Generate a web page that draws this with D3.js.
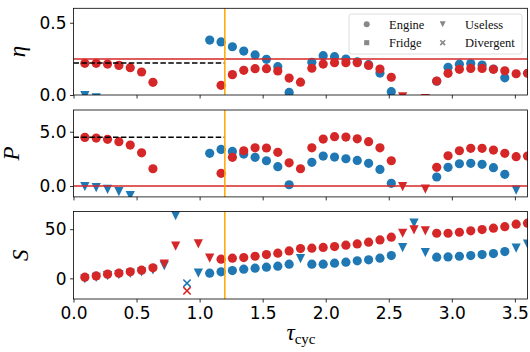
<!DOCTYPE html>
<html>
<head>
<meta charset="utf-8">
<script src="https://cdn.jsdelivr.net/npm/d3@7"></script>
<style>
  body { margin: 0; background: #fff; }
  svg { display: block; }
</style>
</head>
<body>
<div id="chart"></div>
<script>
// cycle times (x)
const tau = [0.09, 0.18, 0.27, 0.36, 0.45, 0.54, 0.63, 0.72, 0.81, 0.90,
             0.99, 1.08, 1.17, 1.26, 1.35, 1.44, 1.53, 1.62, 1.71, 1.80,
             1.89, 1.98, 2.07, 2.16, 2.25, 2.34, 2.43, 2.52, 2.61, 2.70,
             2.79, 2.88, 2.97, 3.06, 3.15, 3.24, 3.33, 3.42, 3.51, 3.60];

// regime per point: E engine, F fridge, U useless, D divergent
const typeBlue = "UUUUUUUUUDUEEEEEEEEUEEEEEEEEUUUEEEEEEEUU".split("");
const typeRed  = "EEEEEEEUUDUUEEEEEEEEEEEEEEEEUUUEEEEEEEEE".split("");

// efficiency eta
const etaBlue = [-0.005, -0.02, null, null, null, null, null, null, null, null,
                 null, 0.380, 0.367, 0.334, 0.304, 0.277, 0.247, 0.196, 0.018, null,
                 0.226, 0.272, 0.265, 0.249, 0.230, 0.210, 0.152, 0.023, null, null,
                 null, 0.095, 0.192, 0.213, 0.218, 0.207, 0.180, 0.119, null, null];
const etaRed  = [0.219, 0.219, 0.214, 0.205, 0.189, 0.159, 0.088, null, null, null,
                 null, null, 0.067, 0.141, 0.171, 0.182, 0.182, 0.166, 0.117, 0.089,
                 0.185, 0.214, 0.224, 0.224, 0.224, 0.205, 0.180, 0.123, -0.012, null,
                 -0.025, 0.097, 0.150, 0.178, 0.184, 0.184, 0.178, 0.167, 0.147, 0.150];

// power P
const powBlue = [-0.06, -0.15, -0.31, -0.52, -0.89, null, null, null, null, null,
                 null, 3.01, 3.37, 3.19, 2.94, 2.64, 2.33, 1.78, 0.12, null,
                 2.18, 2.76, 2.67, 2.51, 2.36, 2.09, 1.53, 0.25, null, null,
                 null, 0.83, 1.72, 2.05, 2.09, 2.00, 1.69, 1.08, -0.37, null];
const powRed  = [4.48, 4.42, 4.30, 4.08, 3.77, 3.06, 1.59, null, null, null,
                 null, null, 1.17, 2.64, 3.25, 3.52, 3.50, 3.10, 2.14, 1.59,
                 3.52, 4.32, 4.54, 4.51, 4.35, 4.08, 3.52, 2.33, -0.06, null,
                 -0.28, 1.72, 2.79, 3.25, 3.47, 3.47, 3.31, 3.01, 2.70, 2.76];

// entropy production S
const entBlue = [-0.5, 1.0, 2.8, 3.8, 5.0, 6.5, 8.5, 13.0, 63.8, -4.9,
                 5.3, 5.3, 6.6, 7.9, 9.3, 10.4, 11.4, 12.4, 14.4, 20.0,
                 14.4, 14.4, 15.4, 16.5, 17.8, 18.8, 20.5, 23.2, 31.3, 56.1,
                 26.2, 21.5, 21.8, 22.5, 23.2, 24.2, 25.2, 27.2, 30.7, 34.8];
const entRed  = [1.2, 2.5, 4.3, 5.3, 6.6, 8.3, 10.7, 14.4, 32.7, -12.7,
                 35.0, 20.5, 19.5, 20.5, 21.1, 22.5, 24.2, 25.6, 27.9, 30.3,
                 30.7, 31.5, 32.3, 33.7, 35.0, 36.8, 39.1, 41.9, 45.9, 49.3,
                 48.3, 45.9, 45.9, 46.9, 48.3, 49.6, 51.0, 52.6, 55.1, 56.1];

const xTicks = [0.0, 0.5, 1.0, 1.5, 2.0, 2.5, 3.0, 3.5];
const tauStar = 1.2;
const etaRef = 0.25, etaDash = 0.222;
const powRef = 0.0, powDash = 4.5;

const BLUE = "#1f77b4", RED = "#d62728", ORANGE = "#ffa500";
const TICK_FONT = "DejaVu Sans, sans-serif";
const SERIF = "'Liberation Serif', 'DejaVu Serif', serif";

const W = 530, H = 352;
const x = d3.scaleLinear().domain([0, 3.6]).range([73.5, 527.5]);

const panels = [
  { label: "η", top: 8.3, bottom: 95, domain: [0, 0.6], ticks: [0, 0.5], fmt: d3.format(".1f"),
    blue: etaBlue, red: etaRed, href: etaRef, dash: etaDash, lx: 25 },
  { label: "P", top: 110, bottom: 196.9, domain: [-1, 7], ticks: [0, 5], fmt: d3.format(".1f"),
    blue: powBlue, red: powRed, href: powRef, dash: powDash, lx: 19 },
  { label: "S", top: 211.5, bottom: 299, domain: [-21, 68], ticks: [0, 50], fmt: d3.format("d"),
    blue: entBlue, red: entRed, href: null, dash: null, lx: 28 }
];

const svg = d3.select("#chart").append("svg")
  .attr("width", W).attr("height", H)
  .attr("viewBox", `0 0 ${W} ${H}`);

// draw a marker of given regime type
function marker(g, type, cx, cy, color, s) {
  if (type === "E") {
    g.append("circle").attr("cx", cx).attr("cy", cy).attr("r", s).attr("fill", color);
  } else if (type === "F") {
    g.append("rect").attr("x", cx - s * 0.85).attr("y", cy - s * 0.85)
      .attr("width", s * 1.7).attr("height", s * 1.7).attr("fill", color);
  } else if (type === "U") {
    g.append("path")
      .attr("d", `M${cx - s},${cy - s}L${cx + s},${cy - s}L${cx},${cy + s}Z`)
      .attr("fill", color);
  } else {
    const k = s * 0.8;
    g.append("path")
      .attr("d", `M${cx - k},${cy - k}L${cx + k},${cy + k}M${cx - k},${cy + k}L${cx + k},${cy - k}`)
      .attr("stroke", color).attr("stroke-width", 1.6).attr("fill", "none");
  }
}

panels.forEach(function (p, pi) {
  const y = d3.scaleLinear().domain(p.domain).range([p.bottom, p.top]);
  const g = svg.append("g");

  svg.append("clipPath").attr("id", "clip" + pi)
    .append("rect")
    .attr("x", x.range()[0]).attr("y", p.top)
    .attr("width", x.range()[1] - x.range()[0]).attr("height", p.bottom - p.top);

  const plot = g.append("g").attr("clip-path", `url(#clip${pi})`);

  // points: blue first, red on top
  tau.forEach(function (t, i) {
    if (p.blue[i] !== null) marker(plot, typeBlue[i], x(t), y(p.blue[i]), BLUE, 4.6);
  });
  tau.forEach(function (t, i) {
    if (p.red[i] !== null) marker(plot, typeRed[i], x(t), y(p.red[i]), RED, 4.6);
  });

  // reference lines
  if (p.href !== null) {
    plot.append("line")
      .attr("x1", x.range()[0]).attr("x2", x.range()[1])
      .attr("y1", y(p.href)).attr("y2", y(p.href))
      .attr("stroke", RED).attr("stroke-width", 1.5);
  }
  if (p.dash !== null) {
    plot.append("line")
      .attr("x1", x(0)).attr("x2", x(tauStar))
      .attr("y1", y(p.dash)).attr("y2", y(p.dash))
      .attr("stroke", "#000").attr("stroke-width", 1.5)
      .attr("stroke-dasharray", "5.5,2.4");
  }
  plot.append("line")
    .attr("x1", x(tauStar)).attr("x2", x(tauStar))
    .attr("y1", p.top).attr("y2", p.bottom)
    .attr("stroke", ORANGE).attr("stroke-width", 1.5);

  // axes
  const ya = g.append("g")
    .attr("transform", `translate(${x.range()[0]},0)`)
    .call(d3.axisLeft(y).tickValues(p.ticks).tickFormat(p.fmt).tickSize(3.5).tickPadding(3.5));
  ya.select(".domain").remove();
  ya.selectAll("text").style("font-family", TICK_FONT).style("font-size", "17px").attr("dy", "0.34em");
  ya.selectAll("line").attr("stroke", "#000").attr("stroke-width", 0.8);

  const xa = g.append("g")
    .attr("transform", `translate(0,${p.bottom})`)
    .call(d3.axisBottom(x).tickValues(xTicks).tickFormat(pi === 2 ? d3.format(".1f") : "")
      .tickSize(3.5).tickPadding(4));
  xa.select(".domain").remove();
  xa.selectAll("text").style("font-family", TICK_FONT).style("font-size", "17px");
  xa.selectAll("line").attr("stroke", "#000").attr("stroke-width", 0.8);

  // frame
  g.append("rect")
    .attr("x", x.range()[0]).attr("y", p.top)
    .attr("width", x.range()[1] - x.range()[0]).attr("height", p.bottom - p.top)
    .attr("fill", "none").attr("stroke", "#000").attr("stroke-width", 0.8);

  // y label
  g.append("text")
    .attr("transform", `translate(${p.lx},${(p.top + p.bottom) / 2}) rotate(-90)`)
    .attr("text-anchor", "middle")
    .style("font-family", SERIF).style("font-style", "italic").style("font-size", "23px")
    .text(p.label);
});

// x label
const xl = svg.append("text")
  .attr("x", 301).attr("y", 340)
  .attr("text-anchor", "middle")
  .style("font-family", SERIF).style("font-size", "23px");
xl.append("tspan").style("font-style", "italic").text("τ");
xl.append("tspan").attr("dy", 4).style("font-size", "15px").text("cyc");

// legend
const leg = svg.append("g").attr("transform", "translate(349,14)");
leg.append("rect")
  .attr("width", 173).attr("height", 40).attr("rx", 2.5)
  .attr("fill", "#fff").attr("fill-opacity", 0.85)
  .attr("stroke", "#d6d6d6").attr("stroke-width", 0.8);
const legendItems = [
  { t: "E", name: "Engine", col: 0, row: 0 },
  { t: "F", name: "Fridge", col: 0, row: 1 },
  { t: "U", name: "Useless", col: 1, row: 0 },
  { t: "D", name: "Divergent", col: 1, row: 1 }
];
legendItems.forEach(function (d) {
  const mx = 17.7 + d.col * 76, my = 10.3 + d.row * 18.4;
  marker(leg, d.t, mx, my, "#888", 3);
  leg.append("text")
    .attr("x", mx + 22.3).attr("y", my + 4.3)
    .style("font-family", SERIF).style("font-size", "12.5px").attr("fill", "#111")
    .text(d.name);
});
</script>
</body>
</html>
